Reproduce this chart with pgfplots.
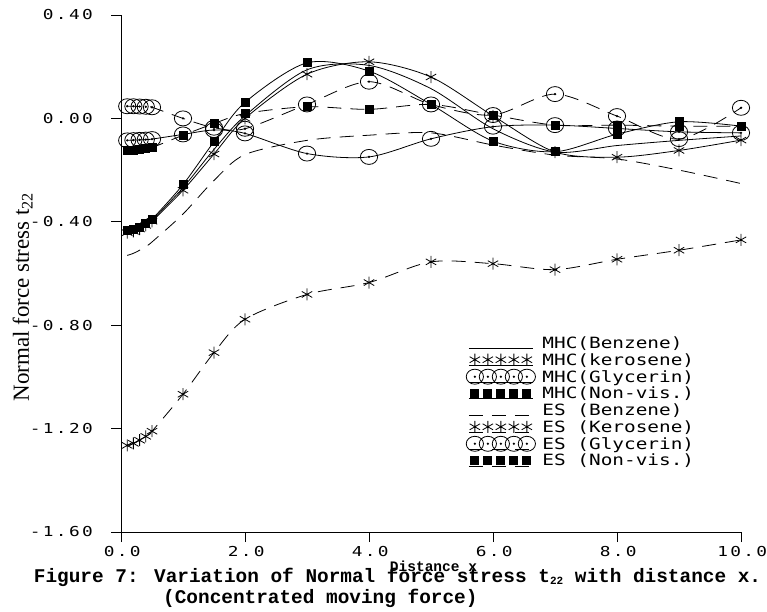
\documentclass[border=0pt]{standalone}
\usepackage{pgfplots}
\pgfplotsset{compat=1.18}
\usepackage{pgfplotstable}
\usepackage{fontspec}
\setmainfont{Liberation Serif}
\newfontfamily\tickfont[FakeStretch=1.3, LetterSpace=17]{DejaVu Sans Mono}
\newfontfamily\legfont[FakeStretch=1.25]{DejaVu Sans Mono}
\newfontfamily\monofont{Liberation Mono}

\pgfdeclareplotmark{cdot}{%
  \pgfpathellipse{\pgfpointorigin}{\pgfqpoint{1.15\pgfplotmarksize}{0pt}}{\pgfqpoint{0pt}{\pgfplotmarksize}}%
  \pgfusepathqstroke
  \pgfpathcircle{\pgfpointorigin}{1.3pt}%
  \pgfusepathqfill}

% MHC solution
\pgfplotstableread{
x    benz    kero    gly     nonvis
0.1  -0.440  -0.442  -0.085  -0.435
0.2  -0.435  -0.437  -0.084  -0.430
0.3  -0.425  -0.428  -0.083  -0.420
0.4  -0.410  -0.414  -0.082  -0.405
0.5  -0.395  -0.398  -0.080  -0.390
1.0  -0.268  -0.278  -0.062  -0.256
1.5  -0.120  -0.138  -0.045  -0.090
2.0   0.010   0.000  -0.058   0.062
3.0   0.188   0.171  -0.136   0.215
4.0   0.205   0.219  -0.149   0.183
5.0   0.115   0.160  -0.079   0.054
6.0  -0.040   0.010  -0.032  -0.088
7.0  -0.130  -0.130  -0.026  -0.129
8.0  -0.105  -0.150  -0.039  -0.061
9.0  -0.085  -0.124  -0.052  -0.013
10.0 -0.068  -0.084  -0.056  -0.030
}\mhc

% ES solution
\pgfplotstableread{
x    benz    kero    gly     nonvis
0.1  -0.530  -1.265   0.047  -0.125
0.2  -0.522  -1.257   0.047  -0.123
0.3  -0.510  -1.245   0.046  -0.120
0.4  -0.495  -1.230   0.045  -0.117
0.5  -0.478  -1.210   0.043  -0.113
1.0  -0.370  -1.067   0.000  -0.065
1.5  -0.240  -0.906  -0.036  -0.020
2.0  -0.140  -0.777  -0.040   0.019
3.0  -0.085  -0.681   0.054   0.045
4.0  -0.065  -0.635   0.142   0.035
5.0  -0.056  -0.555   0.054   0.054
6.0  -0.103  -0.562   0.013   0.013
7.0  -0.142  -0.585   0.094  -0.026
8.0  -0.157  -0.545   0.009  -0.026
9.0  -0.200  -0.510  -0.080  -0.030
10.0 -0.252  -0.470   0.041  -0.030
}\es

\begin{document}
\begin{tikzpicture}
\useasboundingbox (-121pt,-79pt) rectangle (646pt,532pt);
\begin{axis}[
  scale only axis, width=620pt, height=517pt,
  xmin=0, xmax=10, ymin=-1.6, ymax=0.4,
  axis x line*=bottom, axis y line*=left,
  axis line style={line width=0.8pt},
  tick align=outside, major tick length=10pt,
  tick style={line width=0.8pt, black},
  xtick={0,2,4,6,8,10}, xticklabels={0.0,2.0,4.0,6.0,8.0,10.0},
  ytick={-1.6,-1.2,-0.8,-0.4,0,0.4}, yticklabels={-1.60,-1.20,-0.80,-0.40,0.00,0.40},
  ticklabel style={font=\tickfont\fontsize{13.7}{13.7}\selectfont, inner sep=0pt},
  xticklabel style={anchor=north, yshift=-4pt, xshift=1.2pt},
  yticklabel style={anchor=east, xshift=-18pt},
  clip=false,
  every axis plot/.append style={line width=0.8pt, black, smooth, tension=0.5},
  mark options={solid},
  legend cell align=left,
  legend style={at={(rel axis cs:0.5565,0.3799)}, anchor=north west, draw=none, fill=none,
    inner sep=0pt, row sep=0pt, column sep=7pt, nodes={inner sep=0pt},
    cells={anchor=base west},
    font=\legfont\fontsize{15.5}{15.5}\selectfont},
  legend image code/.code={
    \path[draw=none, fill=none] (0pt,-4pt) rectangle (64pt,12.7pt);
    \draw[mark=none] (0pt,0pt) -- (64pt,0pt);
    \path[draw=none] plot coordinates {(6pt,5.5pt) (19pt,5.5pt) (32pt,5.5pt) (45pt,5.5pt) (58pt,5.5pt)};
  },
]
\addplot[solid, mark=none] table[x=x, y=benz] {\mhc};
\addlegendentry{MHC(Benzene)}
\addplot[solid, mark=asterisk, mark size=6pt] table[x=x, y=kero] {\mhc};
\addlegendentry{MHC(kerosene)}
\addplot[solid, mark=cdot, mark size=7.5pt] table[x=x, y=gly] {\mhc};
\addlegendentry{MHC(Glycerin)}
\addplot[solid, mark=square*, mark size=4pt] table[x=x, y=nonvis] {\mhc};
\addlegendentry{MHC(Non-vis.)}
\addplot[dash pattern=on 14pt off 9pt, mark=none] table[x=x, y=benz] {\es};
\addlegendentry{ES (Benzene)}
\addplot[dash pattern=on 14pt off 9pt, mark=asterisk, mark size=6pt] table[x=x, y=kero] {\es};
\addlegendentry{ES (Kerosene)}
\addplot[dash pattern=on 14pt off 9pt, mark=cdot, mark size=7.5pt] table[x=x, y=gly] {\es};
\addlegendentry{ES (Glycerin)}
\addplot[dash pattern=on 14pt off 9pt, mark=square*, mark size=4pt] table[x=x, y=nonvis] {\es};
\addlegendentry{ES (Non-vis.)}
\end{axis}
\node[anchor=base west, inner sep=0pt, font=\monofont\bfseries\fontsize{19.4}{19.4}\selectfont] at (-87.3pt,-50pt)
  {Figure 7: Variation of Normal force stress t\raisebox{-2pt}{\fontsize{11}{11}\selectfont 22} with distance x.};
\node[anchor=base west, inner sep=0pt, font=\monofont\bfseries\fontsize{19.4}{19.4}\selectfont] at (42pt,-71.5pt)
  {(Concentrated moving force)};
\node[anchor=base, inner sep=0pt, font=\monofont\bfseries\fontsize{14.5}{14.5}\selectfont] at (312.5pt,-39.5pt) {Distance x};
\node[anchor=base, rotate=90, inner sep=0pt, font=\fontsize{23}{23}\selectfont] at (-92pt,235pt)
  {Normal force stress t\textsubscript{22}};
\end{tikzpicture}
\end{document}
